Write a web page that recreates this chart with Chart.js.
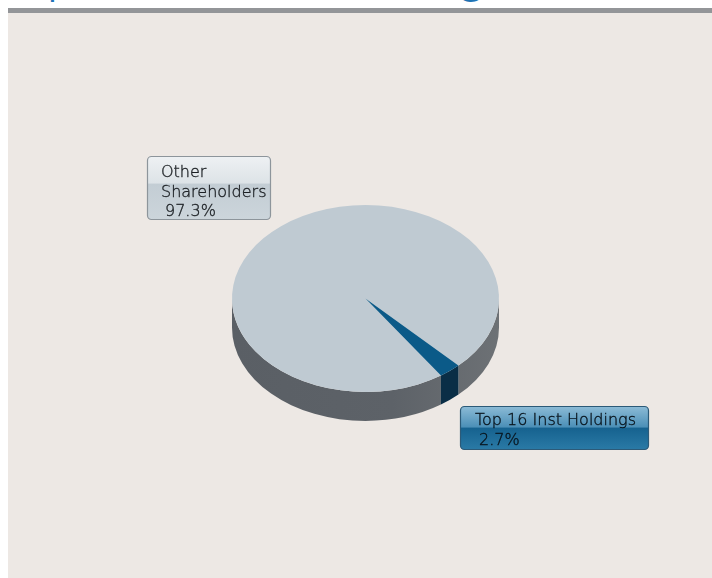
<!DOCTYPE html>
<html>
<head>
<meta charset="utf-8">
<title>Top 16 Institutional Holdings</title>
<script src="https://cdn.jsdelivr.net/npm/chart.js@4/dist/chart.umd.min.js"></script>
<style>
  html, body { margin: 0; padding: 0; background: #ffffff; overflow: hidden; }
  #wrap { position: relative; width: 712px; height: 578px; overflow: hidden; }
  #heading {
    position: absolute; left: 5px; top: -40px; margin: 0;
    font: 37px/1 'Open Sans', sans-serif; color: #1f74b5; white-space: nowrap;
  }
  #panel {
    position: absolute; left: 8px; top: 8px; width: 704px; height: 565px;
    background: #ede8e4; border-top: 5px solid #939598;
  }
  #holdings { position: absolute; left: 0; top: 0; }
</style>
</head>
<body>
<div id="wrap">
  <h2 id="heading">Top 16 Institutional Holdings</h2>
  <div id="panel"></div>
  <canvas id="holdings" width="712" height="578"></canvas>
</div>
<script>
// Ownership split
const categories = [['Other', 'Shareholders'], ['Top 16 Inst Holdings']];
const shares = [97.3, 2.7];

const topColors = ['#bfcad2', '#0b5a88'];
const TILT = 0.70;   // vertical squash of the disc
const DEPTH = 29;    // thickness of the side wall

// side wall colour for each slice
function wallFill(ctx, i, cx, r) {
  if (i === 1) return '#0a2e46';
  const g = ctx.createLinearGradient(cx - r, 0, cx + r, 0);
  g.addColorStop(0, '#5a5f65');
  g.addColorStop(0.6, '#5d6268');
  g.addColorStop(1, '#6d7175');
  return g;
}

// fake 3d: walls under the front half, then squash the slices into an ellipse
const pie3d = {
  id: 'pie3d',
  beforeDatasetsDraw(chart) {
    const ctx = chart.ctx;
    const arcs = chart.getDatasetMeta(0).data;
    const cx = arcs[0].x, cy = arcs[0].y, r = arcs[0].outerRadius;
    const ry = r * TILT;

    arcs.forEach((arc, i) => {
      for (let k = -1; k <= 2; k++) {
        const a = Math.max(arc.startAngle, 2 * Math.PI * k);
        const b = Math.min(arc.endAngle, 2 * Math.PI * k + Math.PI);
        if (b <= a) continue;
        ctx.beginPath();
        ctx.ellipse(cx, cy, r, ry, 0, a, b);
        ctx.ellipse(cx, cy + DEPTH, r, ry, 0, b, a, true);
        ctx.closePath();
        ctx.fillStyle = wallFill(ctx, i, cx, r);
        ctx.fill();
      }
    });

    ctx.save();
    ctx.translate(cx, cy);
    ctx.scale(1, TILT);
    ctx.translate(-cx, -cy);
  },
  afterDatasetsDraw(chart) {
    chart.ctx.restore();
  }
};

// glossy callout boxes
const boxes = [
  { x: 147.5, y: 156.5, w: 123, h: 63, tx: 161, vx: 165, base: 177, step: 19.5,
    border: '#8d959b', hi: ['#eef1f3', '#dde3e7'], lo: ['#c3cdd4', '#ccd5db'], text: '#1c2024' },
  { x: 460.5, y: 406.5, w: 188, h: 43, tx: 475, vx: 479, base: 425, step: 19.5,
    border: '#2c5a78', hi: ['#8cbbd6', '#4b8fb7'], lo: ['#16628f', '#2a7aa6'], text: '#08141d' }
];

const callouts = {
  id: 'callouts',
  afterDraw(chart) {
    const ctx = chart.ctx;
    ctx.save();
    boxes.forEach((bx, i) => {
      const mid = bx.y + bx.h * (i === 0 ? 0.42 : 0.48);
      ctx.beginPath();
      ctx.roundRect(bx.x, bx.y, bx.w, bx.h, 4);
      const g = ctx.createLinearGradient(0, bx.y, 0, bx.y + bx.h);
      const m = (mid - bx.y) / bx.h;
      g.addColorStop(0, bx.hi[0]);
      g.addColorStop(m, bx.hi[1]);
      g.addColorStop(Math.min(m + 0.02, 1), bx.lo[0]);
      g.addColorStop(1, bx.lo[1]);
      ctx.fillStyle = g;
      ctx.fill();
      ctx.lineWidth = 1.2;
      ctx.strokeStyle = bx.border;
      ctx.stroke();

      // thin face, lightly stroked so it reads a touch heavier
      ctx.fillStyle = bx.text;
      ctx.strokeStyle = bx.text;
      ctx.lineWidth = 0.35;
      ctx.font = '200 16px "DejaVu Sans", sans-serif';
      ctx.textBaseline = 'alphabetic';
      const lines = categories[i].concat([shares[i].toFixed(1) + '%']);
      lines.forEach((ln, j) => {
        const x = j === lines.length - 1 ? bx.vx : bx.tx;
        const y = bx.base + j * bx.step;
        ctx.fillText(ln, x, y);
        ctx.strokeText(ln, x, y);
      });
    });
    ctx.restore();
  }
};

new Chart(document.getElementById('holdings'), {
  type: 'pie',
  data: {
    labels: categories.map(c => c.join(' ')),
    datasets: [{
      data: shares,
      backgroundColor: topColors,
      borderWidth: 0
    }]
  },
  options: {
    responsive: false,
    animation: false,
    events: [],
    rotation: 145.6,
    layout: { padding: { left: 232, right: 213, top: 165, bottom: 146 } },
    plugins: {
      legend: { display: false },
      tooltip: { enabled: false },
      title: { display: false }
    }
  },
  plugins: [pie3d, callouts]
});
</script>
</body>
</html>
